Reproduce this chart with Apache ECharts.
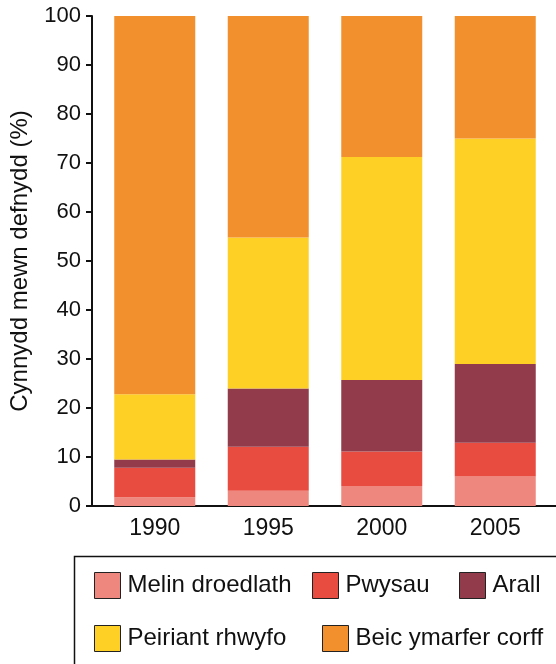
<!DOCTYPE html>
<html>
<head>
<meta charset="utf-8">
<script src="https://cdn.jsdelivr.net/npm/echarts@6/dist/echarts.min.js"></script>
<style>
  html, body { margin: 0; padding: 0; background: #fff; }
  #chart { width: 556px; height: 664px; }
</style>
</head>
<body>
<div id="chart"></div>
<script>
// data
var years = ['1990', '1995', '2000', '2005'];
var seriesNames = ['Melin droedlath', 'Pwysau', 'Arall', 'Peiriant rhwyfo', 'Beic ymarfer corff'];
var melinDroedlath = [1.8, 3.1, 4.1, 6.0];
var pwysau = [6.0, 9.0, 7.0, 6.9];
var arall = [1.7, 11.9, 14.6, 16.1];
var peiriantRhwyfo = [13.3, 30.8, 45.5, 46.0];
var beicYmarfer = [77.2, 45.2, 28.8, 25.0];
var yTicks = [0, 10, 20, 30, 40, 50, 60, 70, 80, 90, 100];

var seriesData = [melinDroedlath, pwysau, arall, peiriantRhwyfo, beicYmarfer];
var colors = ['#ee877d', '#e84b3f', '#923c4b', '#fed026', '#f1902d'];
// legend placement (two rows inside a box)
var legendPos = [[94, 572], [312, 572], [459, 572], [94, 625], [322, 625]];

var FONT = '"Liberation Sans", Arial, sans-serif';
var yMin = yTicks[0], yMax = yTicks[yTicks.length - 1];

var chart = echarts.init(document.getElementById('chart'));

var series = seriesNames.map(function (name, i) {
    return {
        name: name,
        type: 'bar',
        stack: 'total',
        barWidth: 81,
        xAxisIndex: 0,
        yAxisIndex: 0,
        itemStyle: { color: colors[i] },
        data: seriesData[i]
    };
});

var legends = seriesNames.map(function (name, i) {
    return {
        data: [name],
        left: legendPos[i][0],
        top: legendPos[i][1],
        padding: 0,
        itemWidth: 26,
        itemHeight: 26,
        icon: 'rect',
        selectedMode: false,
        itemStyle: { borderColor: '#222', borderWidth: 1 },
        textStyle: { fontFamily: FONT, fontSize: 24, color: '#111', padding: [0, 0, 0, 2] }
    };
});

chart.setOption({
    animation: false,
    backgroundColor: '#fff',
    legend: legends,
    // grid 0 holds the bars, grid 1 (a bit wider) draws the visible axis lines
    grid: [
        { left: 98, right: 4, top: 16, bottom: 158, containLabel: false },
        { left: 91, right: 0, top: 16, bottom: 158, containLabel: false }
    ],
    xAxis: [
        {
            type: 'category',
            gridIndex: 0,
            data: years,
            axisLine: { show: false },
            axisTick: { show: false },
            axisLabel: { fontFamily: FONT, fontSize: 23, color: '#111', margin: 11 }
        },
        {
            type: 'value',
            gridIndex: 1,
            min: 0,
            max: 1,
            axisLine: { show: true, lineStyle: { color: '#111', width: 2 } },
            axisTick: { show: false },
            axisLabel: { show: false },
            splitLine: { show: false }
        }
    ],
    yAxis: [
        {
            type: 'value',
            gridIndex: 0,
            min: yMin,
            max: yMax,
            show: false
        },
        {
            type: 'value',
            gridIndex: 1,
            min: yMin,
            max: yMax,
            interval: 10,
            name: 'Cynnydd mewn defnydd (%)',
            nameLocation: 'middle',
            nameRotate: 90,
            nameGap: 60,
            nameTextStyle: { fontFamily: FONT, fontSize: 24, color: '#111' },
            axisLine: { show: true, lineStyle: { color: '#111', width: 2 } },
            axisTick: { show: true, length: 6, lineStyle: { color: '#111', width: 2 } },
            axisLabel: { fontFamily: FONT, fontSize: 22, color: '#111', margin: 11 },
            splitLine: { show: false }
        }
    ],
    graphic: [
        {
            type: 'rect',
            shape: { x: 74.5, y: 556.5, width: 600, height: 200 },
            style: { fill: 'none', stroke: '#111', lineWidth: 1.5 },
            z: -1
        }
    ],
    series: series
});
</script>
</body>
</html>
